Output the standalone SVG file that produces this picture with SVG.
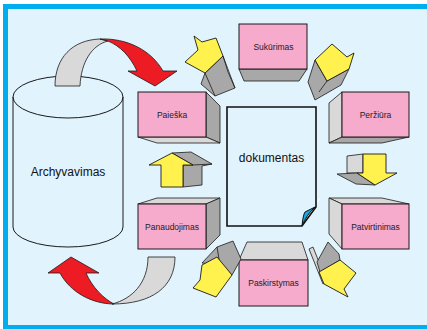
<svg xmlns="http://www.w3.org/2000/svg" width="427" height="329" viewBox="0 0 427 329">
  <defs>
    <style>
      .face { fill: #F6AACC; stroke: #1a1a1a; stroke-width: 1; }
      .dk { fill: #A8A8A8; stroke: #1a1a1a; stroke-width: 0.8; stroke-linejoin: round; }
      .lt { fill: #D9D9D9; stroke: #1a1a1a; stroke-width: 0.8; stroke-linejoin: round; }
      .yl { fill: #FFF24F; stroke: #1a1a1a; stroke-width: 0.9; stroke-linejoin: round; }
      .red { fill: #ED1C24; stroke: #1a1a1a; stroke-width: 0.8; stroke-linejoin: round; }
      .band { fill: #D9D9D9; stroke: #1a1a1a; stroke-width: 0.8; }
      .edge { stroke: #1a1a1a; stroke-width: 0.8; }
      .lbl { font-family: "Liberation Sans", Arial, sans-serif; font-size: 8.5px; text-anchor: middle; fill: #222; }
      .big { font-family: "Liberation Sans", Arial, sans-serif; font-size: 12px; text-anchor: middle; fill: #111; }
    </style>
  </defs>

  <!-- frame -->
  <rect x="5.5" y="6.5" width="424" height="321" fill="#E1F3FC" stroke="#00AEEF" stroke-width="5"/>

  <!-- archive cylinder -->
  <g id="archyvavimas">
    <path d="M13,97 V227 A55,20 0 0 0 123,227 V97" fill="none" stroke="#1a1a1a" stroke-width="1"/>
    <ellipse cx="68" cy="97" rx="55" ry="21" fill="none" stroke="#1a1a1a" stroke-width="1"/>
    <text class="big" x="68" y="176">Archyvavimas</text>
  </g>

  <!-- central document with folded corner -->
  <g id="dokumentas">
    <path d="M227,107 H316 V207 L302,226 H227 Z" fill="#E1F3FC" stroke="#111" stroke-width="1.6" stroke-linejoin="miter"/>
    <path d="M302,226 Q303,215 305,212 L315,207 Q307,214 302,226 Z" fill="#1BA8E0" stroke="#111" stroke-width="1"/>
    <line x1="317" y1="202" x2="320" y2="199" stroke="#FFFFFF" stroke-width="1"/>
    <text class="big" x="271.5" y="162">dokumentas</text>
  </g>

  <!-- process boxes -->
  <g id="sukurimas">
    <polygon class="dk" points="239,69 307,69 299,81 244,81"/>
    <rect class="face" x="239" y="24" width="68" height="45"/>
    <text class="lbl" x="273.5" y="50">Sukūrimas</text>
  </g>

  <g id="paieska">
    <polygon class="dk" points="206,92 220,106 220,143 206,137"/>
    <polygon class="lt" points="138,137 206,137 220,143 157,143"/>
    <rect class="face" x="138" y="92" width="68" height="45"/>
    <text class="lbl" x="172" y="117.5">Paieška</text>
  </g>

  <g id="perziura">
    <polygon class="lt" points="342,92 329,103 329,143 342,137"/>
    <polygon class="dk" points="329,143 342,137 409,137 382,143"/>
    <rect class="face" x="342" y="92" width="67" height="45"/>
    <text class="lbl" x="375.5" y="117.5">Peržiūra</text>
  </g>

  <g id="patvirtinimas">
    <polygon class="lt" points="329,198 382,198 409,204 342,204"/>
    <polygon class="lt" points="329,198 342,204 342,249 329,234"/>
    <rect class="face" x="342" y="204" width="67" height="45"/>
    <text class="lbl" x="375.5" y="230">Patvirtinimas</text>
  </g>

  <g id="paskirstymas">
    <polygon class="lt" points="239,260 247,242 302,242 308,260"/>
    <rect class="face" x="239" y="260" width="69" height="46"/>
    <text class="lbl" x="273.5" y="286">Paskirstymas</text>
  </g>

  <g id="panaudojimas">
    <polygon class="lt" points="138,204 157,198 220,198 206,204"/>
    <polygon class="dk" points="206,204 220,198 220,235 206,249"/>
    <rect class="face" x="138" y="204" width="68" height="45"/>
    <text class="lbl" x="172" y="230">Panaudojimas</text>
  </g>

  <!-- connectors -->
  <g id="connectors">
    <!-- archive to search -->
    <path class="band" d="M55,86 C55,58 72,40 100,39 L108,41 C92,45 81,62 80,86 Z"/>
    <path class="red" d="M100,39 C127,38 151,50 163,71 L177,71 L155,86 L128,71 L137,71 C130,56 120,46 108,41 Z"/>

    <!-- use back to archive -->
    <path class="band" d="M148,257 L175,257 C175,287 152,304 112,304 C132,299 148,283 148,257 Z"/>
    <path class="red" d="M114,304 C92,304 70,292 60,273 L48,273 L71,257 L99,273 L86,273 C92,287 104,299 114,304 Z"/>

    <!-- Panaudojimas -> Paieška -->
    <polygon class="dk" points="183,187 202,185 202,166 212,164 191,152 172,153 193,165 183,165"/>
    <line class="edge" x1="193" y1="165" x2="212" y2="164"/>
    <polygon class="yl" points="161,187 161,165 149,165 172,153 193,165 183,165 183,187"/>

    <!-- Paieška -> Sukūrimas -->
    <polygon class="dk" points="205,73 223,56 228,72 235,88 215,96 201,84"/>
    <line class="edge" x1="223" y1="56" x2="235" y2="88"/>
    <line class="edge" x1="205" y1="73" x2="215" y2="96"/>
    <polygon class="yl" points="194,36 202,42 216,38 223,56 205,73 185,62 198,50"/>

    <!-- Sukūrimas -> Peržiūra -->
    <polygon class="dk" points="315,60 327,81 349,69 341,85 315,100 308,82"/>
    <line class="edge" x1="327" y1="81" x2="319" y2="92"/>
    <polygon class="yl" points="315,60 332,44 347,57 354,53 349,69 327,81"/>

    <!-- Peržiūra -> Patvirtinimas -->
    <polygon class="lt" points="347,156 363,154 363,173 347,173"/>
    <polygon class="dk" points="337,174 357,173 375,185 356,184"/>
    <polygon class="yl" points="363,154 386,154 386,173 397,173 375,185 357,173 363,173"/>

    <!-- Patvirtinimas -> Paskirstymas -->
    <polygon class="lt" points="309,249 313,247 327,282 323,284"/>
    <polygon class="dk" points="317,262 328,242 339,254 340,260 320,272"/>
    <polygon class="yl" points="319,272 340,260 356,273 344,289 348,297 324,284"/>

    <!-- Paskirstymas -> Panaudojimas -->
    <polygon class="dk" points="202,263 217,247 233,241 241,259 232,275 220,265"/>
    <line class="edge" x1="217" y1="247" x2="220" y2="265"/>
    <polygon class="yl" points="202,265 217,257 232,275 216,297 193,288 200,280"/>
  </g>
</svg>
